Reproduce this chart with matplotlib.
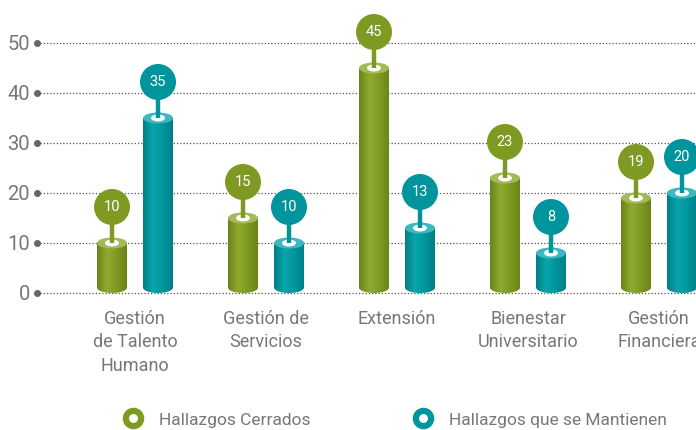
import numpy as np
import matplotlib.pyplot as plt
from matplotlib.patches import Ellipse, PathPatch
from matplotlib.path import Path
from matplotlib.lines import Line2D
from matplotlib.colors import LinearSegmentedColormap

FONT = ['Liberation Sans Narrow', 'Roboto', 'DejaVu Sans']
plt.rcParams['font.family'] = FONT

# --- data ---
categories = ['Gestión\nde Talento\nHumano', 'Gestión de\nServicios', 'Extensión',
              'Bienestar\nUniversitario', 'Gestión\nFinanciera']
cerrados = [10, 15, 45, 23, 19]
mantienen = [35, 10, 13, 8, 20]
series_names = ['Hallazgos Cerrados', 'Hallazgos que se Mantienen']
yticks = [0, 10, 20, 30, 40, 50]

# --- colours ---
green = dict(base='#7e9a22', dark='#6a8418', light='#8fab2e', top='#a4ba58')
teal = dict(base='#00959c', dark='#007f86', light='#0aa5ac', top='#3cb9be')
grey = '#777777'

# --- figure laid out in pixels ---
W, H = 696, 430
fig = plt.figure(figsize=(W / 100, H / 100), dpi=100)
ax_left, ax_top, ax_bot = 37, 0, 300
ax = fig.add_axes([ax_left / W, 1 - ax_bot / H, 1 - ax_left / W, (ax_bot - ax_top) / H])

px_unit_y = 5.0          # pixels per value unit
zero_px = 293
group_px = 131
first_px = 135
ax.set_ylim(-(ax_bot - zero_px) / px_unit_y, (zero_px - ax_top) / px_unit_y)
ax.set_xlim((ax_left - first_px) / group_px, (W - first_px) / group_px)

def px_x(p):
    return p / group_px

def px_y(p):
    return p / px_unit_y

bar_w = px_x(30)
offset = px_x(23)
ell_h = px_y(11)

for s in ax.spines.values():
    s.set_visible(False)
ax.set_xticks([])
ax.set_yticks(yticks)
ax.set_yticklabels([str(t) for t in yticks], fontsize=14.5, color=grey)
ax.tick_params(axis='y', length=0, pad=5)

# grid + tick dots
x0, x1 = ax.get_xlim()
for t in yticks:
    ax.plot([x0 + px_x(3), x1], [t, t], ls=(0, (1, 1.6)), lw=0.9, color='#555555', zorder=1)
ax.plot([x0] * len(yticks), yticks, 'o', ms=4, color='#666666', clip_on=False, zorder=2)


def cylinder(xc, val, col, label):
    left, right = xc - bar_w / 2, xc + bar_w / 2
    # body outline: rectangle with rounded bottom
    th = np.linspace(0, np.pi, 40)
    bx = xc + bar_w / 2 * np.cos(th)
    by = ell_h / 2 - ell_h / 2 * np.sin(th)
    verts = [(left, val)] + [(right, val)] + list(zip(bx, by)) + [(left, val)]
    path = Path(verts)
    patch = PathPatch(path, facecolor='none', edgecolor='none')
    ax.add_patch(patch)
    cmap = LinearSegmentedColormap.from_list('c', [col['dark'], col['light'], col['base'], col['dark']])
    grad = np.linspace(0, 1, 64).reshape(1, -1)
    im = ax.imshow(grad, cmap=cmap, extent=[left, right, 0, val], aspect='auto',
                   interpolation='bicubic', zorder=3)
    im.set_clip_path(patch)
    # top face
    ax.add_patch(Ellipse((xc, val), bar_w, ell_h, facecolor=col['top'], edgecolor='none', zorder=4))
    ax.add_patch(Ellipse((xc, val), px_x(14), px_y(7), facecolor='white', edgecolor='none', zorder=5))
    # pin
    cy = val + px_y(36)
    ax.plot([xc, xc], [val, cy], color=col['base'], lw=3.2, solid_capstyle='butt', zorder=5)
    ax.add_patch(Ellipse((xc, cy), px_x(36), px_y(36), facecolor=col['base'], edgecolor='none', zorder=6))
    ax.text(xc, cy, str(label), ha='center', va='center', color='white', fontsize=10.5, zorder=7)


for i, (a, b) in enumerate(zip(cerrados, mantienen)):
    cylinder(i - offset, a, green, a)
    cylinder(i + offset, b, teal, b)
    ax.text(i, -px_y(17), categories[i], ha='center', va='top', fontsize=13,
            color=grey, linespacing=1.38, clip_on=False)

# legend
handles = [Line2D([], [], marker='o', ls='none', ms=11, mfc='white', mec=green['base'], mew=4.5),
           Line2D([], [], marker='o', ls='none', ms=11, mfc='white', mec=teal['base'], mew=4.5)]
leg = fig.legend(handles, series_names, loc='center', bbox_to_anchor=(0.562, 1 - 420 / H),
                 ncol=2, frameon=False, fontsize=12.5, columnspacing=5.5, handletextpad=0.5)
for t in leg.get_texts():
    t.set_color(grey)

fig.savefig('out.png', dpi=100)
